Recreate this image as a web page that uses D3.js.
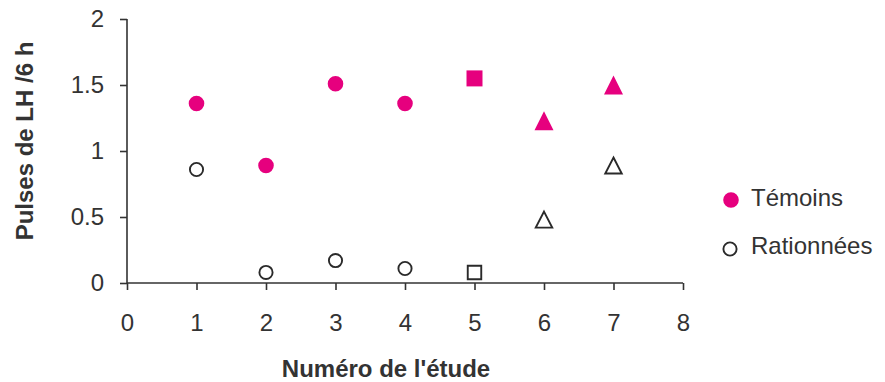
<!DOCTYPE html>
<html><head><meta charset="utf-8">
<script src="https://cdn.jsdelivr.net/npm/d3@7"></script>
<style>body{margin:0;background:#fff;} svg{display:block;font-family:"Liberation Sans",Arial,sans-serif;}</style>
</head><body>
<svg id="c" width="885" height="382"></svg>
<script>
const studies = [1,2,3,4,5,6,7];
const shapes = ["circle","circle","circle","circle","square","triangle","triangle"];
const temoins = [1.36,0.89,1.51,1.36,1.55,1.23,1.50];
const rationnees = [0.86,0.08,0.17,0.11,0.08,0.48,0.89];
const xTicks = [0,1,2,3,4,5,6,7,8];
const yTicks = [0,0.5,1,1.5,2];
const seriesNames = ["Témoins","Rationnées"];
const pink = "#e6007e";
const ink = "#2a2a2a";

const svg = d3.select("#c");
const x = d3.scaleLinear().domain([0,8]).range([127,683]);
const y = d3.scaleLinear().domain([0,2]).range([283,19]);

const ax = svg.append("g").attr("transform","translate(0,283)")
  .call(d3.axisBottom(x).tickValues(xTicks).tickSize(7).tickPadding(24).tickFormat(d3.format("d")));
const ay = svg.append("g").attr("transform","translate(127,0)")
  .call(d3.axisLeft(y).tickValues(yTicks).tickSize(7).tickPadding(16).tickFormat(d=>String(d)));
[ax,ay].forEach(g=>{
  g.select(".domain").attr("stroke","#333").attr("stroke-width",1.6);
  g.selectAll(".tick line").attr("stroke","#333").attr("stroke-width",1.6);
  g.selectAll(".tick text").attr("fill","#333").style("font-size","24px");
});
ax.select(".domain").attr("d","M127,0H683");
ay.select(".domain").attr("d","M0,19V283");

// marker path generators (centered on their bounding box)
function markerPath(shape, filled){
  if(shape==="circle"){
    const r = filled ? 7.8 : 6.6;
    return d3.symbol().type(d3.symbolCircle).size(Math.PI*r*r)();
  }
  if(shape==="square"){
    const s = filled ? 16 : 13.5, h = s/2;
    return `M${-h},${-h}H${h}V${h}H${-h}Z`;
  }
  const w = filled ? 19 : 16.5, ht = filled ? 19 : 16;
  return `M0,${-ht/2}L${w/2},${ht/2}H${-w/2}Z`;
}
const data = studies.map((s,i)=>({s, shape:shapes[i], t:temoins[i], r:rationnees[i]}));
svg.append("g").selectAll("path").data(data).join("path")
  .attr("transform",d=>`translate(${x(d.s)},${y(d.r)})`)
  .attr("d",d=>markerPath(d.shape,false))
  .attr("fill","none").attr("stroke",ink).attr("stroke-width",1.9).attr("stroke-linejoin","miter");
svg.append("g").selectAll("path").data(data).join("path")
  .attr("transform",d=>`translate(${x(d.s)},${y(d.t)})`)
  .attr("d",d=>markerPath(d.shape,true))
  .attr("fill",pink);

// legend
const lg = svg.append("g");
lg.append("path").attr("transform","translate(731,200)").attr("d",markerPath("circle",true)).attr("fill",pink);
lg.append("path").attr("transform","translate(730,249)").attr("d",markerPath("circle",false))
  .attr("fill","none").attr("stroke",ink).attr("stroke-width",1.9);
lg.selectAll("text").data(seriesNames).join("text")
  .attr("x",751).attr("y",(d,i)=>206+i*48).text(d=>d)
  .attr("fill","#333").style("font-size","24px");

// axis titles
svg.append("text").attr("x",386).attr("y",377).attr("text-anchor","middle")
  .attr("fill","#333").style("font-size","24px").style("font-weight","bold").text("Numéro de l'étude");
svg.append("text").attr("transform","translate(33,141) rotate(-90)").attr("text-anchor","middle")
  .attr("fill","#333").style("font-size","24px").style("font-weight","bold").text("Pulses de LH /6 h");
</script>
</body></html>
